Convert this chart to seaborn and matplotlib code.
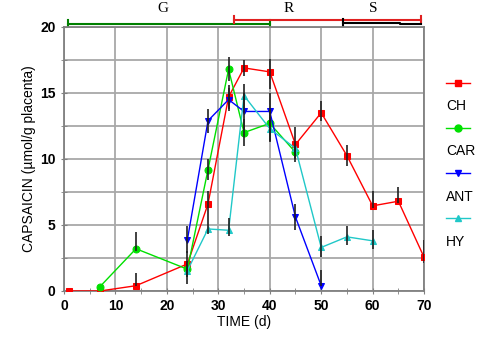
import numpy as np
import pandas as pd
import matplotlib
matplotlib.use("Agg")
import matplotlib.pyplot as plt
import seaborn as sns
from matplotlib.lines import Line2D

# datos
t_ch = [1, 7, 14, 24, 28, 32, 35, 40, 45, 50, 55, 60, 65, 70]
y_ch = [0, 0, 0.4, 2.05, 6.6, 14.7, 16.9, 16.6, 11.1, 13.5, 10.25, 6.45, 6.8, 2.55]
lo_ch = [0, 0, 0, 1.5, 1.0, 0.9, 0.6, 1.3, 1.3, 0.6, 0.8, 0.2, 0.1, 0.4]
hi_ch = [0, 0, 1.0, 1.0, 1.0, 0.9, 0.6, 1.0, 1.3, 0.9, 0.8, 1.1, 1.1, 1.3]

t_car = [7, 14, 24, 28, 32, 35, 40, 45]
y_car = [0.33, 3.2, 1.65, 9.2, 16.8, 12.0, 12.7, 10.5]
lo_car = [0, 0.2, 0.6, 0.8, 0.9, 1.0, 1.4, 0.5]
hi_car = [0, 1.3, 0.6, 0.8, 0.9, 1.0, 1.0, 0.5]

t_ant = [24, 28, 32, 35, 40, 45, 50]
y_ant = [3.9, 12.9, 14.5, 13.6, 13.6, 5.6, 0.4]
lo_ant = [1.0, 0.9, 0.9, 1.4, 1.4, 1.0, 0.0]
hi_ant = [1.0, 0.9, 0.9, 1.4, 1.4, 1.0, 1.2]

t_hy = [24, 28, 32, 35, 40, 45, 50, 55, 60]
y_hy = [1.55, 4.7, 4.6, 14.8, 12.3, 10.8, 3.3, 4.1, 3.8]
lo_hy = [0.5, 0.4, 0.4, 0.9, 0.9, 0.5, 0.7, 0.6, 0.6]
hi_hy = [0.5, 0.9, 0.9, 0.9, 0.9, 0.5, 0.9, 0.8, 0.8]

series = ["CH", "CAR", "ANT", "HY"]
colors = {"CH": "#ff0000", "CAR": "#00e000", "ANT": "#0000ff", "HY": "#20c8c8"}
markers = {"CH": "s", "CAR": "o", "ANT": "v", "HY": "^"}

# fases de desarrollo (inicio, fin)
fase_G = (0.8, 40)
fase_R = (33.1, 69.4)
fase_S = (54.3, 69.4)

datos = {
    "CH": (t_ch, y_ch, lo_ch, hi_ch),
    "CAR": (t_car, y_car, lo_car, hi_car),
    "ANT": (t_ant, y_ant, lo_ant, hi_ant),
    "HY": (t_hy, y_hy, lo_hy, hi_hy),
}

df = pd.concat([pd.DataFrame({"t": d[0], "y": d[1], "serie": k}) for k, d in datos.items()])

plt.rcParams["font.family"] = ["Liberation Sans", "DejaVu Sans"]
fig = plt.figure(figsize=(4.92, 3.46), dpi=100)
ax = fig.add_axes([0.130, 0.159, 0.732, 0.763])

for k in series:
    sub = df[df["serie"] == k]
    sns.lineplot(data=sub, x="t", y="y", ax=ax, color=colors[k], marker=markers[k],
                 markersize=5, markeredgecolor=colors[k], linewidth=1, zorder=3,
                 estimator=None, sort=False, legend=False)
    t, y, lo, hi = datos[k]
    ax.errorbar(t, y, yerr=[lo, hi], fmt="none", ecolor="#202020", elinewidth=1.2,
                capsize=0, zorder=4)

ax.set_xlim(0, 70)
ax.set_ylim(0, 20)
ax.set_xticks(range(0, 71, 10))
ax.set_xticks(range(5, 70, 10), minor=True)
ax.set_yticks(range(0, 21, 5))
ax.set_yticks(np.arange(2.5, 20, 5), minor=True)
ax.grid(True, which="major", axis="x", color="#a8a8a8", linewidth=1.3)
ax.grid(True, which="both", axis="y", color="#a8a8a8", linewidth=1.3)
ax.set_axisbelow(True)
for s in ax.spines.values():
    s.set_color("#808080")
    s.set_linewidth(1.3)
ax.tick_params(which="both", color="#808080", direction="inout", length=5)
ax.tick_params(which="minor", length=4)
for lab in ax.get_xticklabels() + ax.get_yticklabels():
    lab.set_fontweight("bold")
    lab.set_fontsize(10)
ax.set_xlabel("TIME (d)", fontsize=10, labelpad=1)
ax.set_ylabel("CAPSAICIN (µmol/g placenta)", fontsize=10, labelpad=3)

# barras de fases arriba del grafico
def fase(x0, x1, yv, color, c0, c1):
    ax.plot([x0, x1], [yv, yv], color=color, lw=1.5, clip_on=False)
    for xx in (x0, x1):
        ax.plot([xx, xx], [c0, c1], color=color, lw=1.5, clip_on=False)

fase(fase_G[0], fase_G[1], 20.23, "#008000", 20.07, 20.52)
fase(fase_R[0], fase_R[1], 20.53, "#e02020", 20.3, 20.8)
ax.plot([fase_S[0], 65.4, 65.4, fase_S[1]], [20.33, 20.33, 20.23, 20.23], color="black",
        lw=1.5, clip_on=False)
ax.plot([fase_S[0], fase_S[0]], [20.1, 20.58], color="black", lw=1.5, clip_on=False)
ax.text(19.3, 20.9, "G", ha="center", va="bottom", fontsize=11, family="Liberation Serif")
ax.text(43.6, 20.9, "R", ha="center", va="bottom", fontsize=11, family="Liberation Serif")
ax.text(60.1, 20.9, "S", ha="center", va="bottom", fontsize=11, family="Liberation Serif")

# leyenda: marcador arriba, etiqueta abajo
handles, labels = [], []
for k in series:
    handles.append(Line2D([], [], color=colors[k], marker=markers[k], markersize=5, lw=1))
    labels.append("")
    handles.append(Line2D([], [], color="none"))
    labels.append(k)
fig.legend(handles, labels, loc="upper left", bbox_to_anchor=(0.895, 0.795),
           frameon=False, fontsize=10, handlelength=1.75, handletextpad=-1.75,
           labelspacing=0.62, borderaxespad=0)

fig.savefig("out.png", dpi=100)
